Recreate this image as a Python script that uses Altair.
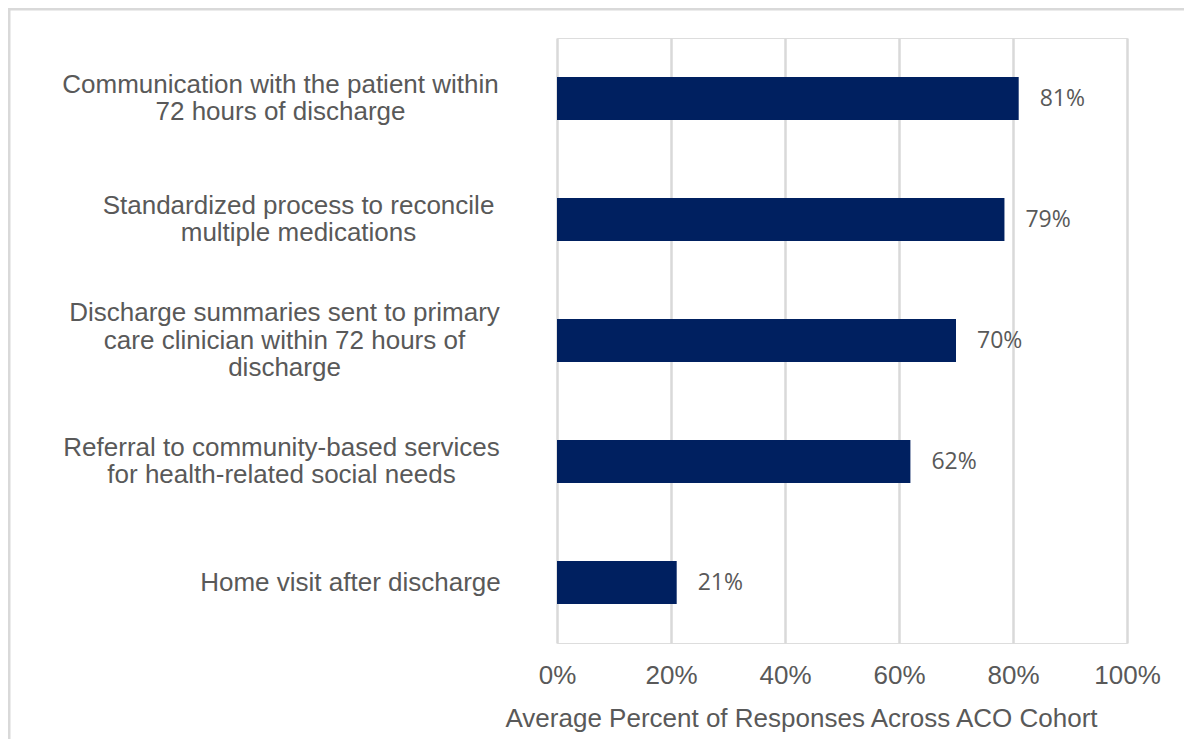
import altair as alt
import pandas as pd

categories = [
    "Communication with the patient within|72 hours of discharge",
    "Standardized process to reconcile|multiple medications",
    "Discharge summaries sent to primary|care clinician within 72 hours of|discharge",
    "Referral to community-based services|for health-related social needs",
    "Home visit after discharge",
]
values = [0.81, 0.785, 0.70, 0.62, 0.21]
value_labels = ["81%", "79%", "70%", "62%", "21%"]
x_ticks = [0, 0.2, 0.4, 0.6, 0.8, 1.0]
x_title = "Average Percent of Responses Across ACO Cohort"

# per-label horizontal offsets of the centred label blocks (style)
label_pads = [277, 259, 273, 276, 207]
LINE_H = 27.5

df = pd.DataFrame({"category": categories, "value": values, "label": value_labels})

GREY = "#595959"
NAVY = "#002060"
FONT = "Liberation Sans"

pad_expr = "[" + ",".join(str(p) for p in label_pads) + "][indexof([" + ",".join(
    "'" + c + "'" for c in categories) + "], datum.value)]"
offset_expr = "-(length(split(datum.value, '|')) - 1) * %s / 2" % LINE_H

y_enc = alt.Y(
    "category:N",
    sort=categories,
    title=None,
    scale=alt.Scale(paddingInner=0.645, paddingOuter=0.3225),
    axis=alt.Axis(
        labelExpr="split(datum.label, '|')",
        labelAlign="center",
        labelBaseline="middle",
        labelPadding={"expr": pad_expr},
        labelOffset={"expr": offset_expr},
        labelLimit=0,
        labelLineHeight=LINE_H,
        labelFontSize=26,
        labelColor=GREY,
        labelFont=FONT,
        ticks=False,
        tickSize=0,
        domain=False,
        grid=False,
    ),
)

x_enc = alt.X(
    "value:Q",
    scale=alt.Scale(domain=[0, 1], nice=False),
    axis=alt.Axis(
        values=x_ticks,
        format=".0%",
        title=x_title,
        titleFont=FONT,
        titleFontSize=26,
        titleFontWeight="normal",
        titleColor=GREY,
        titleX=244,
        titleY=62,
        titleAlign="center",
        titleBaseline="top",
        labelFont=FONT,
        labelFontSize=26,
        labelColor=GREY,
        labelPadding=19,
        labelFlush=False,
        ticks=False,
        domain=False,
        grid=True,
        gridColor="#d9d9d9",
        gridWidth=2.5,
    ),
)

frame = alt.Chart(pd.DataFrame({"k": [0]})).mark_rect(
    filled=False, stroke="#d9d9d9", strokeWidth=3
).encode(
    x=alt.value(-548), x2=alt.value(2000), y=alt.value(-29), y2=alt.value(2000)
)

bars = alt.Chart(df).mark_bar(color=NAVY).encode(x=x_enc, y=y_enc)

texts = alt.Chart(df).mark_text(
    align="left", baseline="middle", dx=21, font="Open Sans", fontSize=23, color=GREY
).encode(x="value:Q", y=alt.Y("category:N", sort=categories), text="label:N")

chart = alt.layer(frame, bars, texts).properties(
    width=570,
    height=605,
    autosize=alt.AutoSizeParams(type="none"),
    padding={"left": 549, "top": 30, "right": 57, "bottom": 96},
).configure_view(stroke=None).configure(background="white")

chart.save("out.html", embed_options={"renderer": "svg", "actions": False})
